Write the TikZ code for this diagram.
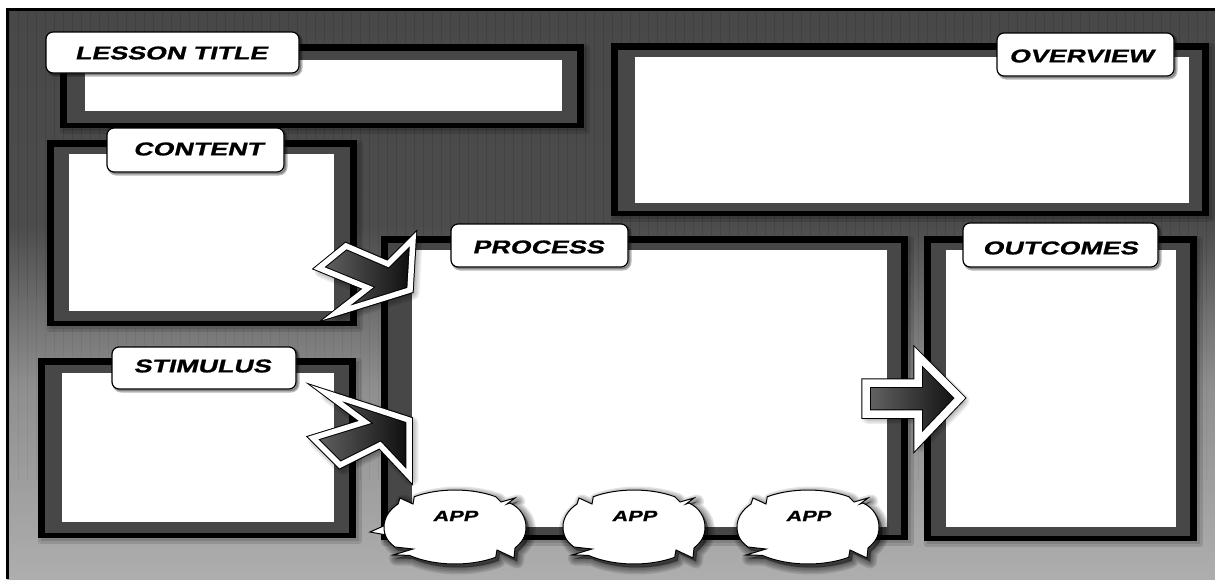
\documentclass[tikz,border=0pt]{standalone}
\usepackage{fontspec}
\newfontfamily\tabfontbase[BoldFeatures={FakeStretch=1.45,FakeSlant=0.24,FakeBold=1}]{Liberation Sans}
\newcommand{\tabfont}{\tabfontbase\bfseries}
\definecolor{bgA}{HTML}{434343}
\definecolor{bgB}{HTML}{4C4C4C}
\definecolor{bgC}{HTML}{8E8E8E}
\definecolor{bgD}{HTML}{CACACA}
\definecolor{band}{HTML}{474747}
\pgfdeclareverticalshading{bgshade}{100bp}{color(0bp)=(bgD); color(10bp)=(bgD); color(42bp)=(bgC); color(56bp)=(bgB); color(100bp)=(bgA)}
\tikzset{
  outerframe/.style={fill=black},
  bandfill/.style={fill=band},
  paper/.style={fill=white},
  tabbox/.style={rectangle,rounded corners=7pt,draw=black,line width=1.2pt,fill=white,inner sep=0pt},
  tablabel/.style={inner sep=0pt,font=\tabfont\fontsize{18.5}{18.5}\selectfont,text=black},
  applabel/.style={inner sep=0pt,font=\tabfont\fontsize{15}{15}\selectfont,text=black},
  bubblefill/.style={fill=white,draw=black,line width=1pt,line join=miter},
  arrowcore/.style={left color=black!60,right color=black!95,draw=none},
  arrowblack/.style={draw=black,line width=#1,line join=miter,miter limit=14},
  arrowwhite/.style={draw=white,line width=#1,line join=miter,miter limit=14},
  softlayer/.style={draw=black,opacity=.07,line join=round,fill=black,shift={(2.5,3)}},
  softbubble/.style={draw=black,opacity=.11,line join=round,fill=black,shift={(3,3.5)}}
}
\newcommand{\softshadow}[1]{\foreach \w in {14,11,8,5,2}{\path[softlayer,line width=\w pt] #1;}}
\newcommand{\softbubbles}[1]{\foreach \w in {14,11,8,5,2}{\path[softbubble,line width=\w pt] #1;}}
\newcommand{\panelbox}[8]{%
  \path[outerframe] (#1,#2) rectangle (#3,#4);
  \path[bandfill] ({#1+7},{#2+7}) rectangle ({#3-7},{#4-5});
  \path[paper] (#5,#6) rectangle (#7,#8);}
\newcommand{\bubblepath}[2]{(#1-57,#2-23) -- (#1-55,#2-29) -- (#1-42,#2-23) -- (#1-40.7,#2-30.3)
   arc[start angle=-125,end angle=-55,x radius=71,y radius=37] -- (#1+46,#2-25) -- (#1+60,#2-29) -- (#1+52,#2-23) -- (#1+55,#2-24)
   .. controls (#1+66,#2-19) and (#1+71,#2-9) .. (#1+71,#2)
   .. controls (#1+71,#2+10) and (#1+67,#2+15) .. (#1+60,#2+21)
   -- (#1+59,#2+31) -- (#1+42,#2+23) -- (#1+40.7,#2+30.3)
   arc[start angle=55,end angle=130,x radius=71,y radius=37] -- (#1-62,#2+28) -- (#1-42,#2+22) -- (#1-60,#2+20)
   .. controls (#1-67,#2+15) and (#1-71,#2+9) .. (#1-71,#2)
   .. controls (#1-71,#2-9) and (#1-66,#2-17) .. (#1-57,#2-23) -- cycle}
\begin{document}
\begin{tikzpicture}[x=1pt,y=-1pt]
\useasboundingbox (0,0) rectangle (1215,579);
\path[fill=white] (0,0) rectangle (1215,579);
% background
\shade[shading=bgshade] (7,9) rectangle (1215,579);
\draw[black,opacity=.10,line width=.5pt,step=9] (7,9) grid (1215,300);
\draw[black,opacity=.05,line width=.5pt,step=9] (7,300) grid (1215,480);
\draw[black,line width=2.5pt] (7.5,579) -- (7.5,9.5) -- (1215,9.5);
% panels
\foreach \a/\b/\c/\d in {60/44/584/128,611/43/1209/216,47/140/357/326,38/358/356/538,381/236/908/540,924/236/1197/541}{
  \path[softlayer,line width=6pt,opacity=.12] (\a,\b) rectangle (\c,\d);}
\panelbox{60}{44}{584}{128}{85}{60}{562}{111}
\panelbox{611}{43}{1209}{216}{635}{57}{1189}{203}
\panelbox{47}{140}{357}{326}{69}{154}{334}{311}
\panelbox{38}{358}{356}{538}{62}{373}{334}{522}
\panelbox{381}{236}{908}{540}{412}{250}{887}{527}
\panelbox{924}{236}{1197}{541}{946}{250}{1176}{527}
% block arrows
\def\arrowA{(413,239) -- (388,264) -- (346,246) -- (319,268) -- (368,288) -- (336,313) -- (410,290) -- cycle}
\def\arrowB{(326,393) -- (409,420) -- (409,476) -- (380,445) -- (340,465) -- (313,438) -- (365,422) -- cycle}
\def\arrowC{(866,383) -- (918,383) -- (918,356) -- (960,398) -- (918,442) -- (918,414) -- (866,414) -- cycle}
\softshadow{\arrowA}
\softshadow{\arrowB}
\softshadow{\arrowC}
\path[arrowcore] \arrowA;
\path[arrowblack=7.5pt] \arrowA;
\path[arrowwhite=5.5pt] \arrowA;
\path[arrowcore] \arrowB;
\path[arrowblack=7.5pt] \arrowB;
\path[arrowwhite=5.5pt] \arrowB;
\path[arrowcore] \arrowC;
\path[arrowblack=9.5pt] \arrowC;
\path[arrowwhite=7.5pt] \arrowC;
% tabs
\foreach \a/\b/\c/\d in {46/32/299/73,107/128/284/172,112/347/296/389,451/224/628/267,963/223/1158/267,997/33/1174/76}{
  \path[softlayer,line width=3pt,opacity=.28,rounded corners=7pt,shift={(-.5,-1)}] (\a,\b) rectangle (\c,\d);}
\node[tabbox,minimum width=253pt,minimum height=41pt] (lesson) at (172.5,52.5) {};
\node[tabbox,minimum width=177pt,minimum height=44pt] (content) at (195.5,150) {};
\node[tabbox,minimum width=184pt,minimum height=42pt] (stimulus) at (204,368) {};
\node[tabbox,minimum width=177pt,minimum height=43pt] (process) at (539.5,245.5) {};
\node[tabbox,minimum width=195pt,minimum height=44pt] (outcomes) at (1060.5,245) {};
\node[tabbox,minimum width=177pt,minimum height=43pt] (overview) at (1085.5,54.5) {};
\node[tablabel] (lessontext) at (171,53) {LESSON TITLE};
\node[tablabel] (contenttext) at (198,149) {CONTENT};
\node[tablabel] (stimulustext) at (202,366) {STIMULUS};
\node[tablabel] (processtext) at (538,247) {PROCESS};
\node[tablabel] (outcomestext) at (1060,248) {OUTCOMES};
\node[tablabel] (overviewtext) at (1081,56) {OVERVIEW};
% bubbles
\softbubbles{\bubblepath{455}{527}}
\softbubbles{\bubblepath{634}{527}}
\softbubbles{\bubblepath{808}{527}}
\path[bubblefill] (388,524) -- (370,532) -- (392,536) -- cycle;
\path[bubblefill] \bubblepath{455}{527};
\path[bubblefill] \bubblepath{634}{527};
\path[bubblefill] \bubblepath{808}{527};
\node[applabel] (app1) at (455,516) {APP};
\node[applabel] (app2) at (634,516) {APP};
\node[applabel] (app3) at (808,516) {APP};
\end{tikzpicture}
\end{document}
